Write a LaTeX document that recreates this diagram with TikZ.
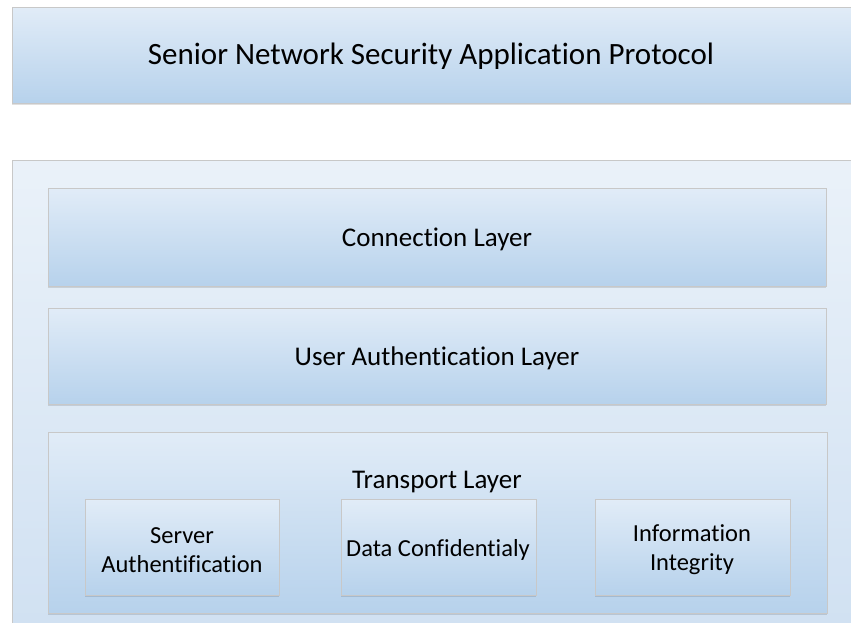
\documentclass[tikz,border=0pt]{standalone}
\usepackage{fontspec}
\setmainfont{Carlito}[Ligatures=NoCommon]
\usetikzlibrary{shadows}
\definecolor{bordergray}{HTML}{C8C8C8}
\definecolor{shtop}{HTML}{F6F9FD}
\definecolor{shmid}{HTML}{B4D0EB}
\definecolor{shbot}{HTML}{C4DAEF}
\definecolor{otop}{HTML}{F7FAFD}
\definecolor{obot}{HTML}{C3D8EE}
\pgfdeclareverticalshading{layershade}{100bp}{color(0bp)=(shbot); color(8bp)=(shmid); color(22bp)=(shmid); color(100bp)=(shtop)}
\pgfdeclareverticalshading{outershade}{100bp}{color(0bp)=(obot); color(100bp)=(otop)}
\tikzset{
  layer/.style={draw=bordergray, line width=0.8pt, shading=layershade, rectangle, inner sep=0pt, align=center,
    drop shadow={shadow xshift=0pt, shadow yshift=-2pt, opacity=0.12, fill=black}},
  outer/.style={draw=bordergray, line width=0.8pt, shading=outershade, rectangle, inner sep=0pt},
  bigtext/.style={font=\fontsize{27}{31}\selectfont},
  smalltext/.style={font=\fontsize{24.5}{29}\selectfont},
}
\begin{document}
\begin{tikzpicture}[x=1pt,y=-1pt]
\useasboundingbox (0,0) rectangle (851,623);
\fill[white] (0,0) rectangle (851,623);
% title box
\node[layer, minimum width=860pt, minimum height=96pt, anchor=north west] (title) at (12,7) {};
\node[font=\fontsize{31}{35}\selectfont] (titletext) at (431,56) {Senior Network Security Application Protocol};
% outer container
\node[outer, minimum width=860pt, minimum height=480pt, anchor=north west] (outer) at (12,160) {};
% layers
\node[layer, minimum width=778pt, minimum height=98pt, anchor=north west] (conn) at (48,188) {};
\node[bigtext] (conntext) at (437,239) {Connection Layer};
\node[layer, minimum width=778pt, minimum height=96pt, anchor=north west] (user) at (48,308) {};
\node[bigtext] (usertext) at (437,358) {User Authentication Layer};
\node[layer, minimum width=779pt, minimum height=181pt, anchor=north west] (trans) at (48,432) {};
\node[bigtext] (translabel) at (437,482) {Transport Layer};
% sub boxes
\node[layer, minimum width=194pt, minimum height=96pt, anchor=north west] (server) at (85,499) {};
\node[smalltext, align=center] (servertext) at (182,550) {Server\\Authentification};
\node[layer, minimum width=195pt, minimum height=96pt, anchor=north west] (data) at (341,499) {};
\node[smalltext] (datatext) at (438,550) {Data Confidentialy};
\node[layer, minimum width=195pt, minimum height=96pt, anchor=north west] (info) at (595,499) {};
\node[smalltext, align=center] (infotext) at (692,550) {Information\\Integrity};
\end{tikzpicture}
\end{document}
